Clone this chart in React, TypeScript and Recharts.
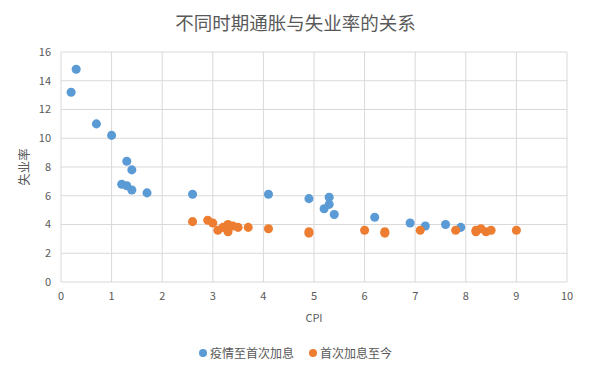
import React from 'react';
import {
  ScatterChart,
  Scatter,
  XAxis,
  YAxis,
  ZAxis,
  CartesianGrid,
  Legend,
} from 'recharts';

// 疫情至首次加息
const PANDEMIC_CPI = [0.3, 0.2, 0.7, 1.0, 1.3, 1.4, 1.2, 1.3, 1.4, 1.7, 2.6, 4.1, 4.9, 5.3, 5.3, 5.2, 5.4, 6.2, 6.9, 7.2, 7.6, 7.9];
const PANDEMIC_UNEMP = [14.8, 13.2, 11.0, 10.2, 8.4, 7.8, 6.8, 6.7, 6.4, 6.2, 6.1, 6.1, 5.8, 5.9, 5.4, 5.1, 4.7, 4.5, 4.1, 3.9, 4.0, 3.8];

// 首次加息至今
const HIKE_CPI = [2.6, 2.9, 3.0, 3.1, 3.2, 3.3, 3.3, 3.4, 3.5, 3.7, 4.1, 4.9, 4.9, 6.0, 6.4, 6.4, 7.1, 7.8, 8.2, 8.2, 8.3, 8.4, 8.5, 9.0];
const HIKE_UNEMP = [4.2, 4.3, 4.1, 3.6, 3.8, 4.0, 3.5, 3.9, 3.8, 3.8, 3.7, 3.4, 3.5, 3.6, 3.4, 3.5, 3.6, 3.6, 3.5, 3.6, 3.7, 3.5, 3.6, 3.6];

const X_TICKS = [0, 1, 2, 3, 4, 5, 6, 7, 8, 9, 10];
const Y_TICKS = [0, 2, 4, 6, 8, 10, 12, 14, 16];

const SERIES_NAMES = ['疫情至首次加息', '首次加息至今'];
const COLORS = ['#5B9BD5', '#ED7D31'];

const pandemicData = PANDEMIC_CPI.map((x, i) => ({ x, y: PANDEMIC_UNEMP[i] }));
const hikeData = HIKE_CPI.map((x, i) => ({ x, y: HIKE_UNEMP[i] }));

const FONT = '"Noto Sans CJK SC", "Noto Sans", sans-serif';
const TEXT = '#595959';

const LegendContent = () => (
  <div style={{ display: 'flex', justifyContent: 'center', fontFamily: FONT, fontSize: 12, color: TEXT }}>
    {SERIES_NAMES.map((name, i) => (
      <div key={name} style={{ display: 'flex', alignItems: 'center', marginRight: i === 0 ? 15 : 0 }}>
        <span style={{ width: 8, height: 8, borderRadius: 4, background: COLORS[i], marginRight: 3 }} />
        <span>{name}</span>
      </div>
    ))}
  </div>
);

const App: React.FC = () => {
  return (
    <div style={{ position: 'absolute', left: 0, top: 0, width: 591, height: 373, background: '#fff', fontFamily: FONT }}>
      <div style={{ position: 'absolute', top: 9, width: 591, textAlign: 'center', fontSize: 18.5, color: TEXT }}>
        不同时期通胀与失业率的关系
      </div>
      <ScatterChart width={591} height={373} margin={{ top: 52, right: 24, bottom: 44, left: 0 }}>
        <CartesianGrid stroke="#d9d9d9" strokeWidth={1} />
        <XAxis
          type="number"
          dataKey="x"
          domain={[0, 10]}
          ticks={X_TICKS}
          interval={0}
          axisLine={false}
          tickLine={false}
          tickSize={0}
          tickMargin={10}
          tick={{ fill: TEXT, fontSize: 11, fontFamily: FONT }}
          label={{ value: 'CPI', position: 'insideBottom', offset: -10, fill: TEXT, fontSize: 11, fontFamily: FONT }}
        />
        <YAxis
          type="number"
          dataKey="y"
          domain={[0, 16]}
          ticks={Y_TICKS}
          interval={0}
          width={61}
          axisLine={false}
          tickLine={false}
          tickSize={0}
          tickMargin={10}
          tick={{ fill: TEXT, fontSize: 11, fontFamily: FONT }}
          label={{ value: '失业率', angle: -90, position: 'insideLeft', offset: 25, textAnchor: 'middle', fill: TEXT, fontSize: 12.5, fontFamily: FONT }}
        />
        <ZAxis range={[64, 64]} />
        <Legend
          verticalAlign="bottom"
          wrapperStyle={{ top: 344, left: 0, width: 591 }}
          content={LegendContent}
        />
        <Scatter name={SERIES_NAMES[0]} data={pandemicData} fill={COLORS[0]} isAnimationActive={false} />
        <Scatter name={SERIES_NAMES[1]} data={hikeData} fill={COLORS[1]} isAnimationActive={false} />
      </ScatterChart>
    </div>
  );
};

export default App;
